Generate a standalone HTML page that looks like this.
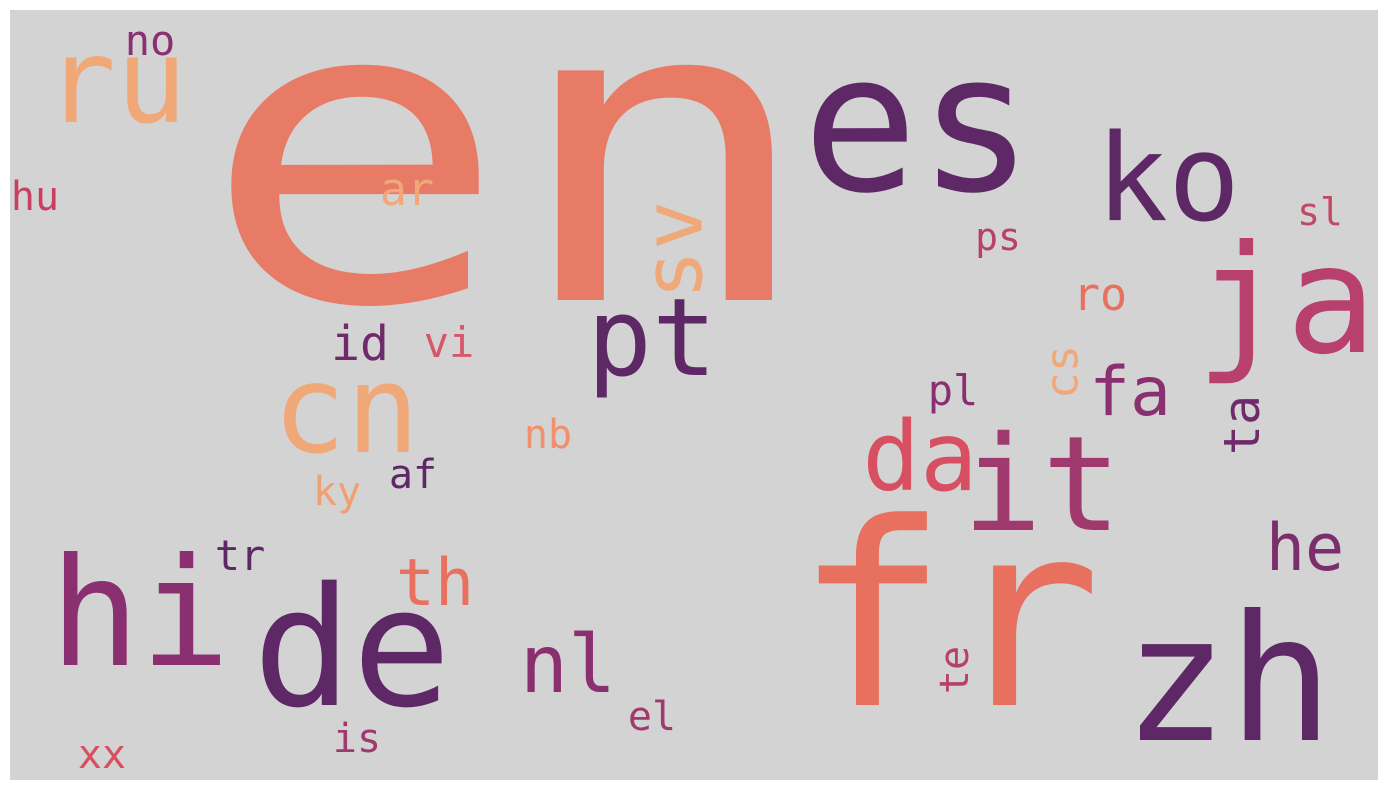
<!DOCTYPE html>
<html><head><meta charset="utf-8"><style>
html,body{margin:0;padding:0;background:#fff;width:1388px;height:790px;overflow:hidden}
svg{display:block}
text{font-family:"DejaVu Sans Mono","Liberation Mono",monospace}
</style></head><body>
<svg id="cloud" width="1388" height="790" xmlns="http://www.w3.org/2000/svg">
<rect x="10" y="10" width="1368" height="770" fill="#d3d3d3"/>
</svg>
<script>
const words=["en","es","ko","ja","ru","no","hu","ar","sv","pt","id","vi","cn","ps","sl","ro","cs","fa","pl","ta","da","it","nb","af","ky","tr","th","he","hi","de","nl","fr","zh","te","el","is","xx"];
const sizes=[420,192,120,150,118,42,40,45,82,108,48,42,122,38,38,45,45,68,42,50,96,132,40,40,40,42,65,65,150,165,80,255,175,40,40,40,40];
const stretch=[1.22,1,1,1,1,1,1,1,1,1,1,1,1,1,1,1,1,1,1,1,1,1,1,1,1,1,1,1,1,1,1,1,1,1,1,1,1];
const cx=[509,918,1168,1286,116,150,35,407,674,652,360,449,346,998,1320,1100,1062,1130,953,1242,920,1042,548,413,337,240,435,1305,140,352,568,948,1228,955,652,357,102];
const cy=[300,190,220,352,122,55,210,205,250,375,360,357,452,250,225,310,372,415,405,425,490,530,448,488,505,570,605,570,665,705,692,705,740,670,730,752,768];
const rot=[0,0,0,0,0,0,0,0,1,0,0,0,0,0,0,0,1,0,0,1,0,0,0,0,0,0,0,0,0,0,0,0,0,1,0,0,0];
const colors=["#e87b65","#5e2866","#5e2866","#b8406c","#f0a878","#8a3070","#c8405e","#f0a878","#f0a878","#5e2866","#6e2a6a","#d8566a","#f0a878","#b8406c","#c04a66","#e8705e","#f0a878","#8a3070","#8a3070","#6e2a6a","#d84f62","#a03a6e","#f0906c","#5e2866","#f0a070","#5e2866","#e8705e","#7a2e6c","#8a3070","#5e2866","#8a3070","#e8705e","#5e2866","#b8406c","#a03a6e","#a03a6e","#d84f62"];
const svg=document.getElementById('cloud');
for(let i=0;i<words.length;i++){
  const t=document.createElementNS('http://www.w3.org/2000/svg','text');
  
  
  t.setAttribute('font-size',sizes[i]);
  t.setAttribute('fill',colors[i]);
  t.setAttribute('text-anchor','middle');
  t.setAttribute('x',0);t.setAttribute('y',0);
  if(rot[i]){
    t.setAttribute('dominant-baseline','central');
    t.setAttribute('transform','translate('+cx[i]+','+cy[i]+') rotate(-90)');
  }else{
    t.setAttribute('transform','translate('+cx[i]+','+cy[i]+') scale('+stretch[i]+',1)');
  }
  t.textContent=words[i];
  svg.appendChild(t);
}
</script>
</body></html>
